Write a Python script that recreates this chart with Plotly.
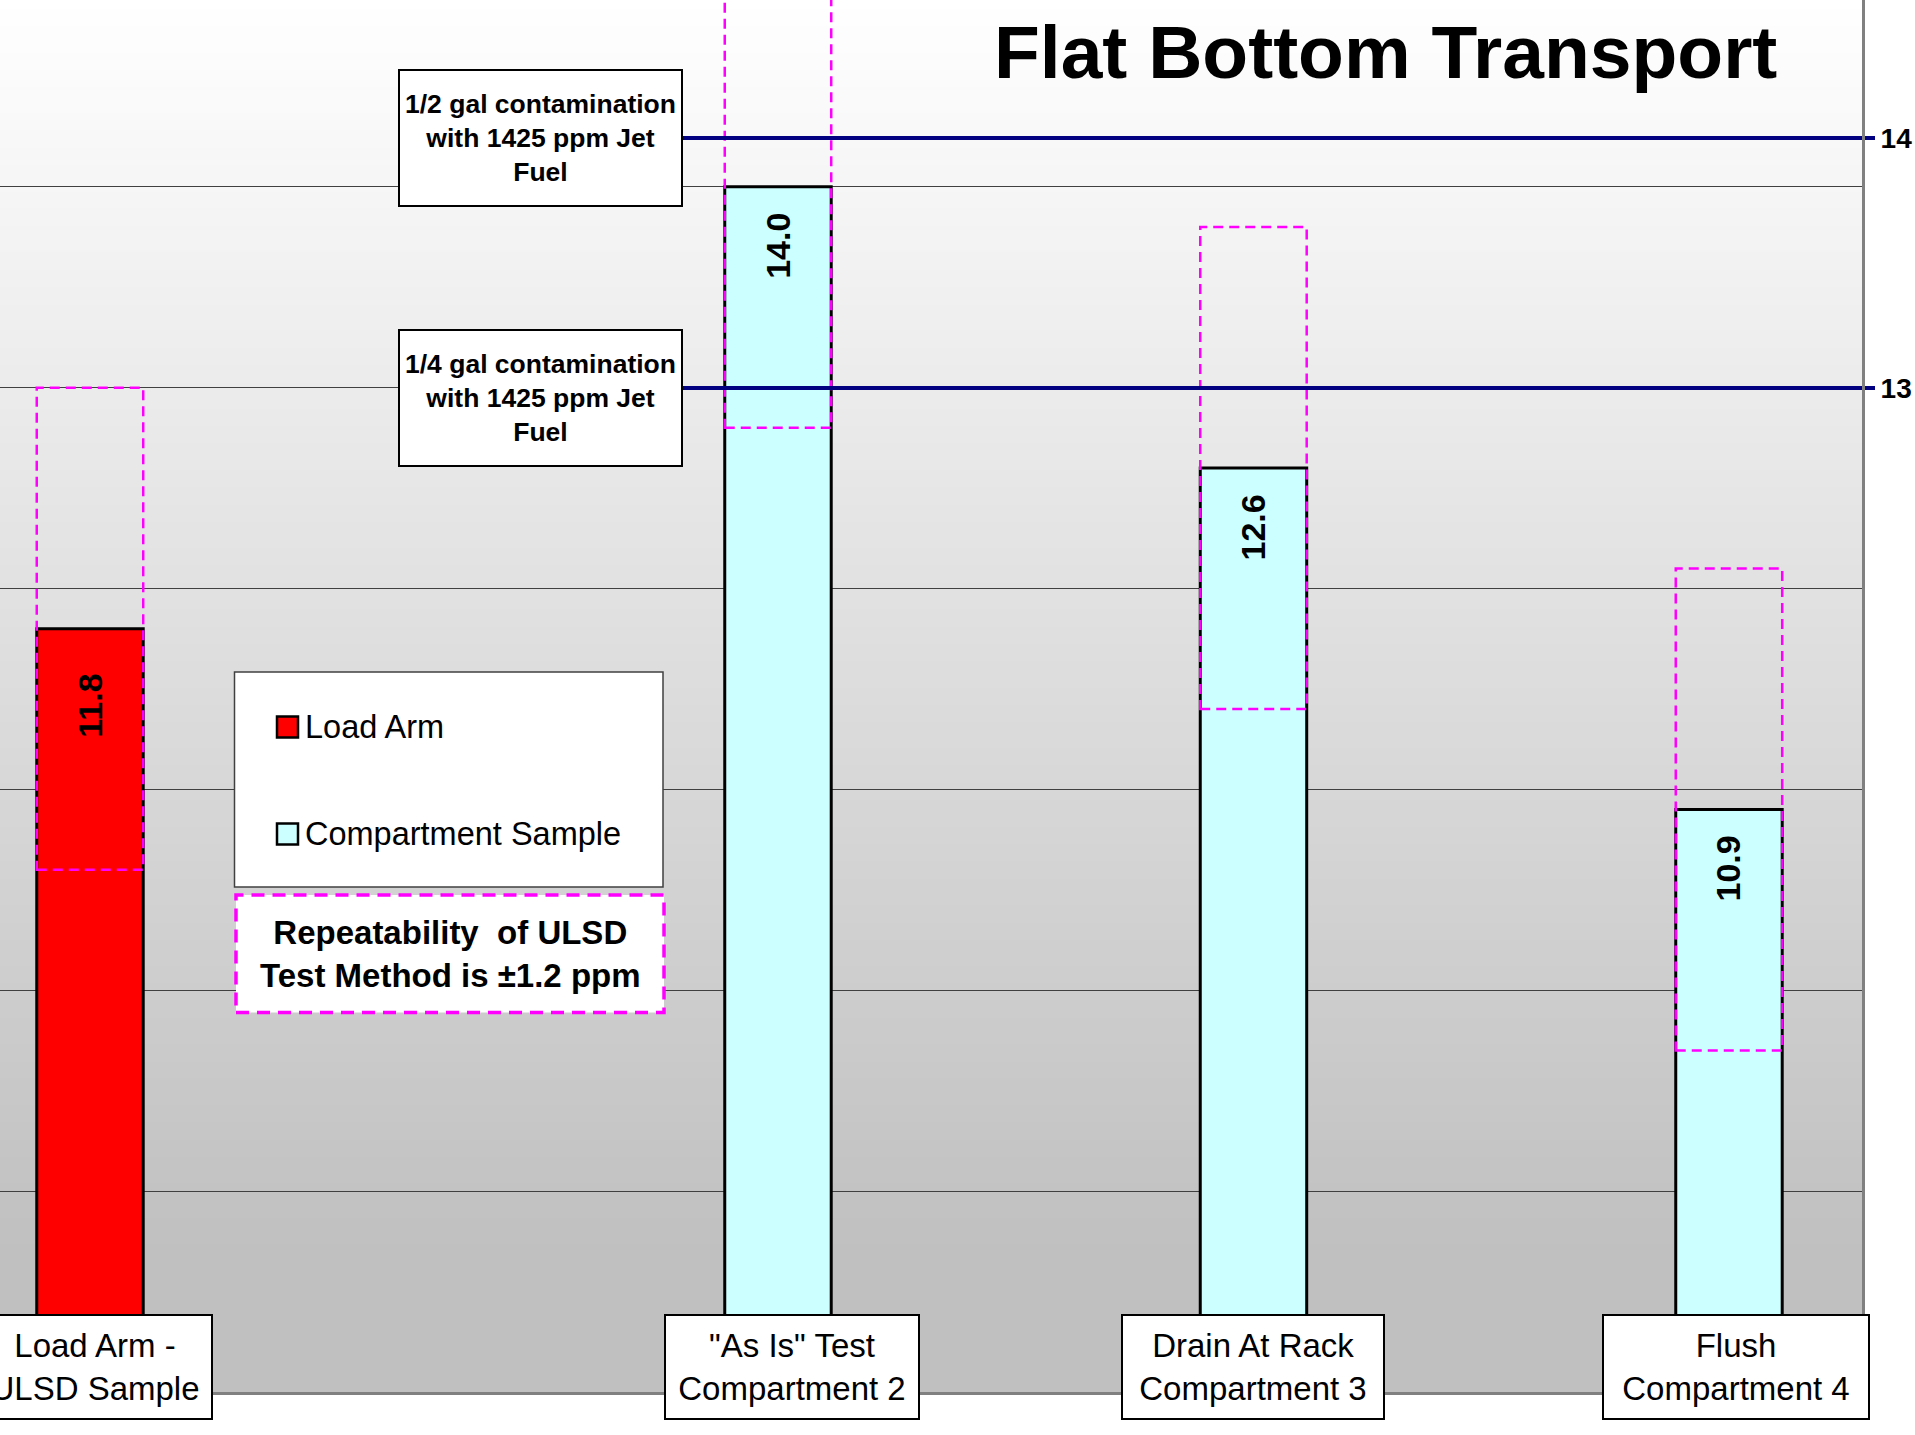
import plotly.graph_objects as go

# ---------------- data ----------------
categories = ["Load Arm -<br>ULSD Sample", "\"As Is\" Test<br>Compartment 2",
              "Drain At Rack<br>Compartment 3", "Flush<br>Compartment 4"]
load_arm = [11.8, None, None, None]
compartment = [None, 14.0, 12.6, 10.9]
repeatability = 1.2
ref_values = [14, 13]
ref_labels = ["1/2 gal contamination<br>with 1425 ppm Jet<br>Fuel",
              "1/4 gal contamination<br>with 1425 ppm Jet<br>Fuel"]
series_names = ["Load Arm", "Compartment Sample"]
title_text = "Flat Bottom Transport"
note_text = "Repeatability  of ULSD<br>Test Method is ±1.2 ppm"

# ---------------- layout geometry ----------------
W, H = 1915, 1435
ML, MR, MT, MB = 0, 53, 0, 43
PW, PH = W - ML - MR, H - MT - MB

def fx(p):
    return (p - ML) / PW

def fy(p):
    return 1 - (p - MT) / PH

FONT = "Liberation Sans, Arial, sans-serif"

BARGAP = 0.1062
BARGROUPGAP = 0.499
slot = (1 - BARGAP) / 2
half_w = slot * (1 - BARGROUPGAP) / 2
offsets = [-slot / 2, slot / 2]
label_shift = [-77, -59]

colors = ["#FF0000", "#CCFFFF"]

fig = go.Figure()
for name, vals, col in zip(series_names, [load_arm, compartment], colors):
    fig.add_trace(go.Bar(x=categories, y=vals, name=name,
                         marker=dict(color=col, line=dict(color="black", width=3)),
                         showlegend=False))

# invisible trace to activate secondary axis
fig.add_trace(go.Scatter(x=[categories[0]], y=[ref_values[0]], yaxis="y2",
                         mode="markers", marker=dict(opacity=0), showlegend=False,
                         hoverinfo="skip"))

shapes = []
annotations = []

# background gradient (white -> silver); overlapping bands avoid seams
N = 160
for i in range(N):
    p0 = PH * i / N
    mid = PH * (i + 0.5) / N
    g = int(round(255 - 63 * min(1.0, mid / 1250)))
    shapes.append(dict(type="rect", xref="paper", yref="paper", x0=0, x1=1,
                       y0=0, y1=fy(p0), fillcolor=f"rgb({g},{g},{g})",
                       line=dict(width=0), layer="below"))

# repeatability boxes + value labels
for s, vals in enumerate([load_arm, compartment]):
    for i, v in enumerate(vals):
        if v is None:
            continue
        xc = i + offsets[s]
        shapes.append(dict(type="rect", xref="x", yref="y",
                           x0=xc - half_w, x1=xc + half_w,
                           y0=v - repeatability, y1=v + repeatability,
                           line=dict(color="#FF00FF", width=2.5, dash="10px,6px"),
                           fillcolor="rgba(0,0,0,0)", layer="above"))
        annotations.append(dict(x=xc, y=v, xref="x", yref="y", text=f"<b>{v:.1f}</b>",
                                textangle=-90, showarrow=False, yanchor="middle",
                                xanchor="center", yshift=label_shift[s],
                                font=dict(family=FONT, size=34, color="black")))

# category label boxes
cat_x = [0 + offsets[0], 1 + offsets[1], 2 + offsets[1], 3 + offsets[1]]
cat_w = [236, 256, 264, 268]
cat_shift = [5, 14, 0, 7]
for i, c in enumerate(categories):
    annotations.append(dict(x=cat_x[i], y=fy(1367), xref="x", yref="paper", text=c,
                            showarrow=False, xanchor="center", yanchor="middle",
                            xshift=cat_shift[i],
                            width=cat_w[i] - 4, height=102, borderpad=0,
                            bgcolor="white", bordercolor="black", borderwidth=2,
                            font=dict(family=FONT, size=33, color="black")))

# reference lines (secondary axis) and their boxes
box_left, box_right = 398, 683
box_centers = [138, 398]
for v, lab, yc in zip(ref_values, ref_labels, box_centers):
    shapes.append(dict(type="line", xref="paper", yref="y2", x0=fx(box_right), x1=1,
                       y0=v, y1=v, line=dict(color="#000080", width=4), layer="above"))
    annotations.append(dict(x=fx((box_left + box_right) / 2), y=fy(yc), xref="paper",
                            yref="paper", text=f"<b>{lab}</b>", showarrow=False,
                            xanchor="center", yanchor="middle",
                            width=box_right - box_left - 4, height=134, borderpad=0,
                            bgcolor="white", bordercolor="black", borderwidth=2,
                            font=dict(family=FONT, size=26.5, color="black")))

# legend (manual)
shapes.append(dict(type="rect", xref="paper", yref="paper", x0=fx(234.5), x1=fx(663),
                   y0=fy(887), y1=fy(672), fillcolor="white",
                   line=dict(color="#404040", width=1.5), layer="above"))
leg_y = [727, 834]
for name, col, yc in zip(series_names, colors, leg_y):
    shapes.append(dict(type="rect", xref="paper", yref="paper", x0=fx(277), x1=fx(298),
                       y0=fy(yc + 10.5), y1=fy(yc - 10.5), fillcolor=col,
                       line=dict(color="black", width=2.5), layer="above"))
    annotations.append(dict(x=fx(303), y=fy(yc), xref="paper", yref="paper", text=name,
                            showarrow=False, xanchor="left", yanchor="middle",
                            font=dict(family=FONT, size=32.5, color="black")))

# repeatability note
shapes.append(dict(type="rect", xref="paper", yref="paper", x0=fx(236), x1=fx(664),
                   y0=fy(1012.5), y1=fy(895), fillcolor="white",
                   line=dict(color="#FF00FF", width=3.5, dash="13px,8px"), layer="above"))
annotations.append(dict(x=fx(450), y=fy(954), xref="paper", yref="paper",
                        text=f"<b>{note_text}</b>", showarrow=False,
                        xanchor="center", yanchor="middle",
                        font=dict(family=FONT, size=33, color="black")))

# title
annotations.append(dict(x=fx(1385), y=fy(52), xref="paper", yref="paper",
                        text=f"<b>{title_text}</b>", showarrow=False,
                        xanchor="center", yanchor="middle",
                        font=dict(family=FONT, size=75, color="black")))

fig.update_layout(
    width=W, height=H,
    margin=dict(l=ML, r=MR, t=MT, b=MB, pad=0, autoexpand=False),
    paper_bgcolor="white", plot_bgcolor="rgba(0,0,0,0)",
    barmode="group", bargap=BARGAP, bargroupgap=BARGROUPGAP,
    showlegend=False,
    shapes=shapes, annotations=annotations,
    xaxis=dict(range=[-0.4127, 3.5032], showticklabels=False, ticks="",
               showline=True, linecolor="#808080", linewidth=3, showgrid=False,
               zeroline=False, fixedrange=True, automargin=False),
    yaxis=dict(range=[8, 14.93], showticklabels=False, ticks="", showgrid=True,
               gridcolor="#404040", gridwidth=1, dtick=1, tick0=8, zeroline=False,
               showline=False, automargin=False),
    yaxis2=dict(overlaying="y", side="right", range=[8.984, 14.552],
                tickvals=ref_values, ticktext=[f"<b>{v}</b>" for v in ref_values],
                ticks="outside", ticklen=10, tickwidth=4, tickcolor="#000080",
                showline=True, linecolor="#808080", linewidth=3, showgrid=False,
                zeroline=False, ticklabelstandoff=0, automargin=False,
                tickfont=dict(family=FONT, size=28, color="black")),
)

fig.write_html("out.html")
